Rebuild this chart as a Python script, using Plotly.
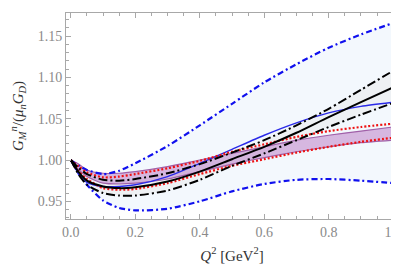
import plotly.graph_objects as go

Q2 = [0.0, 0.025, 0.05, 0.1, 0.15, 0.2, 0.3, 0.4, 0.5, 0.6, 0.7, 0.8, 0.9, 1.0]

blue_upper = [1.0, 0.993, 0.988, 0.983, 0.987, 0.996, 1.017, 1.042, 1.068, 1.094, 1.116, 1.136, 1.152, 1.166]
blue_lower = [1.0, 0.983, 0.970, 0.951, 0.942, 0.939, 0.941, 0.950, 0.962, 0.971, 0.976, 0.977, 0.975, 0.972]
black_solid = [1.0, 0.985, 0.975, 0.968, 0.966, 0.967, 0.974, 0.986, 1.001, 1.016, 1.033, 1.052, 1.070, 1.088]
black_dd_up = [1.0, 0.990, 0.983, 0.976, 0.975, 0.977, 0.984, 0.995, 1.009, 1.024, 1.042, 1.062, 1.085, 1.108]
black_dd_low = [1.0, 0.982, 0.970, 0.960, 0.957, 0.957, 0.963, 0.976, 0.993, 1.008, 1.024, 1.040, 1.055, 1.069]
blue_solid = [1.0, 0.983, 0.973, 0.968, 0.968, 0.970, 0.980, 0.996, 1.013, 1.030, 1.045, 1.057, 1.065, 1.070]
red_up = [1.0, 0.992, 0.985, 0.979, 0.980, 0.983, 0.990, 0.999, 1.010, 1.019, 1.028, 1.035, 1.040, 1.044]
red_low = [1.0, 0.986, 0.977, 0.966, 0.964, 0.965, 0.972, 0.983, 0.993, 1.001, 1.009, 1.016, 1.022, 1.027]
purple_top = [1.0, 0.995, 0.988, 0.984, 0.984, 0.986, 0.992, 1.000, 1.008, 1.016, 1.024, 1.030, 1.035, 1.040]
purple_bot = [1.0, 0.988, 0.980, 0.972, 0.971, 0.972, 0.977, 0.986, 0.995, 1.003, 1.010, 1.016, 1.021, 1.024]

x_ticks = [0.0, 0.2, 0.4, 0.6, 0.8, 1.0]
x_ticklabels = ["0.0", "0.2", "0.4", "0.6", "0.8", "1.0"]
y_ticks = [0.95, 1.00, 1.05, 1.10, 1.15]
y_ticklabels = ["0.95", "1.00", "1.05", "1.10", "1.15"]

SERIF = "'Liberation Serif', 'Times New Roman', Times, serif"

fig = go.Figure()


def ln(width=0, color=None, dash=None):
    d = dict(width=width, shape="spline", smoothing=0.7)
    if color:
        d["color"] = color
    if dash:
        d["dash"] = dash
    return d


# light blue band
fig.add_trace(go.Scatter(x=Q2, y=blue_lower, mode="lines", line=ln(), showlegend=False, hoverinfo="skip"))
fig.add_trace(go.Scatter(x=Q2, y=blue_upper, mode="lines", line=ln(), fill="tonexty",
                         fillcolor="#f3f8fd", showlegend=False, hoverinfo="skip"))
# gray band between black dash-dot
fig.add_trace(go.Scatter(x=Q2, y=black_dd_low, mode="lines", line=ln(), showlegend=False, hoverinfo="skip"))
fig.add_trace(go.Scatter(x=Q2, y=black_dd_up, mode="lines", line=ln(), fill="tonexty",
                         fillcolor="#eef1f4", showlegend=False, hoverinfo="skip"))
# purple band
fig.add_trace(go.Scatter(x=Q2, y=purple_bot, mode="lines", line=ln(1.2, "#a060a8"), showlegend=False))
fig.add_trace(go.Scatter(x=Q2, y=purple_top, mode="lines", line=ln(1.2, "#a060a8"), fill="tonexty",
                         fillcolor="rgba(190,130,200,0.55)", showlegend=False))

# lines
fig.add_trace(go.Scatter(x=Q2, y=blue_upper, mode="lines",
                         line=ln(2.2, "#1010ee", "6px,3px,2px,3px"), showlegend=False))
fig.add_trace(go.Scatter(x=Q2, y=blue_lower, mode="lines",
                         line=ln(2.2, "#1010ee", "6px,3px,2px,3px"), showlegend=False))
fig.add_trace(go.Scatter(x=Q2, y=blue_solid, mode="lines",
                         line=ln(1.4, "#2a2ae8"), showlegend=False))
fig.add_trace(go.Scatter(x=Q2, y=red_up, mode="lines",
                         line=ln(2.2, "#ee1111", "2px,2px"), showlegend=False))
fig.add_trace(go.Scatter(x=Q2, y=red_low, mode="lines",
                         line=ln(2.2, "#ee1111", "2px,2px"), showlegend=False))
fig.add_trace(go.Scatter(x=Q2, y=black_dd_up, mode="lines",
                         line=ln(2.0, "black", "9px,3px,2px,3px"), showlegend=False))
fig.add_trace(go.Scatter(x=Q2, y=black_dd_low, mode="lines",
                         line=ln(2.0, "black", "9px,3px,2px,3px"), showlegend=False))
fig.add_trace(go.Scatter(x=Q2, y=black_solid, mode="lines",
                         line=ln(2.0, "black"), showlegend=False))

axis_common = dict(
    showline=True, mirror="allticks", linecolor="#a8a8a8", linewidth=1,
    ticks="inside", ticklen=5, tickcolor="#a8a8a8", tickwidth=1,
    showgrid=False, zeroline=False, ticklabeloverflow="allow", automargin=False,
    tickfont=dict(family=SERIF, size=14, color="#8a8a8a"),
)

fig.update_xaxes(range=[-0.015, 1.015], tickvals=x_ticks, ticktext=x_ticklabels,
                 minor=dict(dtick=0.05, tick0=0, ticks="inside", ticklen=3, tickcolor="#a8a8a8"),
                 title=dict(text="<i>Q</i><sup>2</sup> [GeV<sup>2</sup>]", standoff=11,
                            font=dict(family=SERIF, size=15, color="#333333")),
                 **axis_common)
fig.update_yaxes(range=[0.9286, 1.178], tickvals=y_ticks, ticktext=y_ticklabels,
                 minor=dict(dtick=0.01, tick0=0.9, ticks="inside", ticklen=3, tickcolor="#a8a8a8"),
                 title=dict(text="<i>G</i><sub><i>M</i></sub><sup><i>n</i></sup>/(<i>μ</i><sub><i>n</i></sub><i>G</i><sub><i>D</i></sub>)",
                            standoff=13, font=dict(family=SERIF, size=15, color="#333333")),
                 **axis_common)

fig.update_layout(width=399, height=265, margin=dict(l=58, r=9, t=5, b=54),
                  font=dict(family=SERIF),
                  plot_bgcolor="white", paper_bgcolor="white")

fig.write_html("out.html")
